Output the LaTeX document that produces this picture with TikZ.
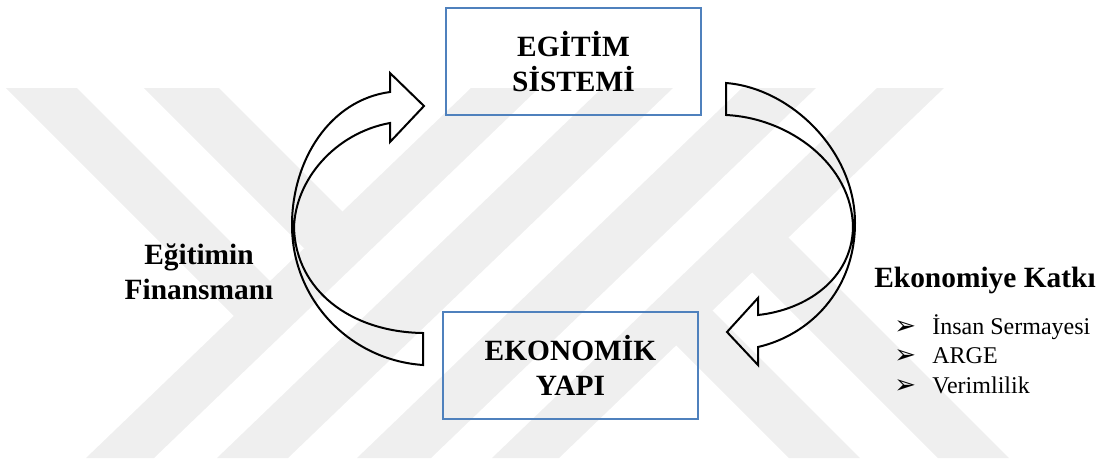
\documentclass[tikz,border=0pt]{standalone}
\usepackage{fontspec}
\setmainfont{Liberation Serif}
\newfontfamily\bulletfont{DejaVu Sans}
\usetikzlibrary{positioning}
\definecolor{boxblue}{HTML}{4F81BD}
\definecolor{wmgray}{HTML}{EFEFEF}

\begin{document}
\begin{tikzpicture}[x=0.5pt, y=-0.5pt,
  box/.style={rectangle, draw=boxblue, line width=1pt, minimum width=127.5pt, minimum height=53.5pt, inner sep=0pt, align=center, font=\rmfamily\bfseries\fontsize{14.7}{17.5}\selectfont},
  caption/.style={inner sep=0pt, align=center, font=\rmfamily\bfseries\fontsize{14.7}{17.5}\selectfont},
  item/.style={inner sep=0pt, anchor=base west, font=\rmfamily\fontsize{12}{14}\selectfont},
  bullet/.style={inner sep=0pt, anchor=base west, font=\bulletfont\fontsize{13}{14}\selectfont},
  blockarrow/.style={draw=black, line width=1pt, line join=miter},
  band/.style={fill=wmgray, draw=none}]

  \useasboundingbox (0,0) rectangle (1105,462);

  % watermark
  \fill[band] (471,88) -- (539,88) -- (154,458) -- (86,458) -- cycle;
  \fill[band] (602,88) -- (673,88) -- (288,458) -- (217,458) -- cycle;
  \fill[band] (742,88) -- (816,88) -- (431,458) -- (357,458) -- cycle;
  \fill[band] (877,88) -- (944,88) -- (559,458) -- (492,458) -- cycle;
  \fill[band] (6,88) -- (77,88) -- (303,314) -- (234,316) -- cycle;
  \fill[band] (144,88) -- (219,88) -- (376,245) -- (304,248) -- cycle;
  \fill[band] (789,458) -- (860,458) -- (712,310) -- (643,312) -- cycle;
  \fill[band] (938,458) -- (1009,458) -- (788,237) -- (719,239) -- cycle;

  \node[box] (sistem) at (573.5,61.5) {EGİTİM\\SİSTEMİ};
  \node[box] (yapi) at (570.5,365) {EKONOMİK\\YAPI};

  \node[caption] (finansman) at (199,272) {Eğitimin\\Finansmanı};
  \node[caption, anchor=base] (katki) at (985,287) {Ekonomiye Katkı};

  \foreach \name/\txt [count=\i] in {insan/İnsan Sermayesi, arge/ARGE, verim/Verimlilik} {
    \node[bullet] (\name-b) at (894,304.5+29.5*\i) {➢};
    \node[item] (\name) at (932,304.5+29.5*\i) {\txt};
  }

  % curved block arrows
  \draw[blockarrow] (423,365) .. controls (350,360) and (292,300) .. (292,225)
    .. controls (292,160) and (330,100) .. (390,92) -- (390,73) -- (424,106)
    -- (390,142) -- (390,123) .. controls (335,133) and (295,180) .. (294,228)
    .. controls (296,290) and (350,332) .. (423,333) -- cycle;
  \draw[blockarrow] (726,83) .. controls (790,88) and (855,150) .. (855,223)
    .. controls (855,290) and (810,335) .. (758,347) -- (758,365) -- (727,332)
    -- (758,298) -- (758,315) .. controls (805,310) and (852,280) .. (853,227)
    .. controls (852,165) and (790,118) .. (726,115) -- cycle;

\end{tikzpicture}
\end{document}
